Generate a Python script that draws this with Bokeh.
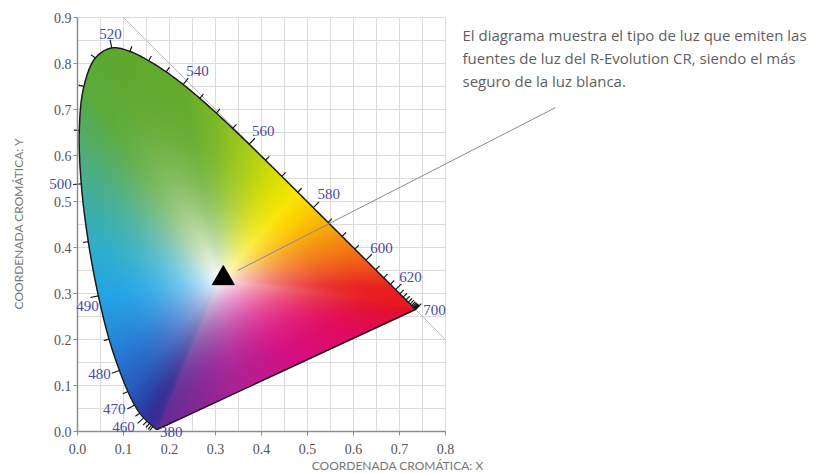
import numpy as np
from bokeh.plotting import figure
from bokeh.models import ColumnDataSource, LabelSet, Label, Arrow, FixedTicker, PrintfTickFormatter, Grid
from bokeh.core.properties import value
from bokeh.embed import file_html
from bokeh.resources import INLINE

# CIE 1931 spectral locus (2 deg observer), 5 nm steps
wavelengths = [380, 385, 390, 395, 400, 405, 410, 415, 420, 425, 430, 435, 440, 445, 450,
               455, 460, 465, 470, 475, 480, 485, 490, 495, 500, 505, 510, 515, 520, 525,
               530, 535, 540, 545, 550, 555, 560, 565, 570, 575, 580, 585, 590, 595, 600,
               605, 610, 615, 620, 625, 630, 635, 640, 645, 650, 655, 660, 665, 670, 675,
               680, 685, 690, 695, 700]
locus_x = [0.1741, 0.1740, 0.1738, 0.1736, 0.1733, 0.1730, 0.1726, 0.1721, 0.1714, 0.1703,
           0.1689, 0.1669, 0.1644, 0.1611, 0.1566, 0.1510, 0.1440, 0.1355, 0.1241, 0.1096,
           0.0913, 0.0687, 0.0454, 0.0235, 0.0082, 0.0039, 0.0139, 0.0389, 0.0743, 0.1142,
           0.1547, 0.1929, 0.2296, 0.2658, 0.3016, 0.3373, 0.3731, 0.4087, 0.4441, 0.4788,
           0.5125, 0.5448, 0.5752, 0.6029, 0.6270, 0.6482, 0.6658, 0.6801, 0.6915, 0.7006,
           0.7079, 0.7140, 0.7190, 0.7230, 0.7260, 0.7283, 0.7300, 0.7311, 0.7320, 0.7327,
           0.7334, 0.7340, 0.7344, 0.7346, 0.7347]
locus_y = [0.0050, 0.0050, 0.0049, 0.0049, 0.0048, 0.0048, 0.0048, 0.0048, 0.0051, 0.0058,
           0.0069, 0.0086, 0.0109, 0.0138, 0.0177, 0.0227, 0.0297, 0.0399, 0.0578, 0.0868,
           0.1327, 0.2007, 0.2950, 0.4127, 0.5384, 0.6548, 0.7502, 0.8120, 0.8338, 0.8262,
           0.8059, 0.7816, 0.7543, 0.7243, 0.6923, 0.6589, 0.6245, 0.5896, 0.5547, 0.5202,
           0.4866, 0.4544, 0.4242, 0.3965, 0.3725, 0.3514, 0.3340, 0.3197, 0.3083, 0.2993,
           0.2920, 0.2859, 0.2809, 0.2770, 0.2740, 0.2717, 0.2700, 0.2689, 0.2680, 0.2673,
           0.2666, 0.2660, 0.2656, 0.2654, 0.2653]

# wavelength labels (positions)
label_text = ["380", "460", "470", "480", "490", "500", "520", "540", "560", "580", "600", "620", "700"]
label_x = [0.204, 0.100, 0.080, 0.048, 0.022, -0.037, 0.072, 0.261, 0.404, 0.546, 0.661, 0.724, 0.776]
label_y = [-0.002, 0.009, 0.048, 0.124, 0.272, 0.537, 0.865, 0.783, 0.654, 0.517, 0.398, 0.335, 0.265]

# white point marker and leader line
white_x = [0.317]
white_y = [0.333]
leader_x = [0.348, 1.039]
leader_y = [0.350, 0.704]

# x + y = 1 reference line
diag_x = [0.1, 0.8]
diag_y = [0.9, 0.2]

x_ticks = [0.0, 0.1, 0.2, 0.3, 0.4, 0.5, 0.6, 0.7, 0.8]
y_ticks = [0.0, 0.1, 0.2, 0.3, 0.4, 0.5, 0.6, 0.7, 0.8, 0.9]
x_minor = [0.05, 0.15, 0.25, 0.35, 0.45, 0.55, 0.65, 0.75]
y_minor = [0.05, 0.15, 0.25, 0.35, 0.45, 0.55, 0.65, 0.75, 0.85]

text_lines = ["El diagrama muestra el tipo de luz que emiten las",
              "fuentes de luz del R-Evolution CR, siendo el más",
              "seguro de la luz blanca."]
text_y = [0.861, 0.811, 0.763]
text_x = 0.837

# colour anchors (style) along the boundary
anchor_wl = [380, 450, 460, 470, 480, 490, 495, 500, 505, 510, 520, 540, 550, 560, 570, 575, 580, 590, 600, 610, 620, 700]
anchor_rgb = [(95, 45, 150), (55, 45, 150), (45, 55, 155), (40, 75, 175), (40, 110, 205), (35, 165, 230),
              (50, 175, 200), (70, 175, 150), (85, 172, 100), (90, 170, 60), (95, 168, 45), (100, 172, 45),
              (125, 185, 40), (170, 205, 25), (225, 225, 0), (250, 230, 0), (252, 205, 0), (245, 145, 15),
              (240, 95, 25), (235, 55, 30), (232, 30, 32), (228, 18, 38)]
purple_frac = [0.0, 0.2, 0.45, 0.7, 1.0]
purple_rgb = [(228, 18, 38), (225, 10, 90), (215, 15, 130), (170, 35, 150), (95, 45, 150)]
WX, WY = 0.31, 0.33

# ---- layout geometry: 460 px per unit, x=0 at px 77, y=0 at px 431 ----
W_PX, H_PX = 821, 473
SCALE = 460.0
X0_PX, Y0_PX = 77.0, 431.0
x_range = (-X0_PX / SCALE, (W_PX - X0_PX) / SCALE)
y_range = ((Y0_PX - H_PX) / SCALE, Y0_PX / SCALE)


def centripetal_cr(xs, ys, ws, sub=12):
    """Smooth centripetal Catmull-Rom curve through the locus points."""
    P = np.column_stack([xs, ys]).astype(float)
    P = np.vstack([2 * P[0] - P[1], P, 2 * P[-1] - P[-2]])
    ox, oy, ow = [], [], []
    for i in range(1, len(P) - 2):
        p0, p1, p2, p3 = P[i - 1], P[i], P[i + 1], P[i + 2]
        t0 = 0.0
        t1 = t0 + np.linalg.norm(p1 - p0) ** 0.5 + 1e-9
        t2 = t1 + np.linalg.norm(p2 - p1) ** 0.5 + 1e-9
        t3 = t2 + np.linalg.norm(p3 - p2) ** 0.5 + 1e-9
        tt = np.linspace(t1, t2, sub, endpoint=False)[:, None]
        A1 = (t1 - tt) / (t1 - t0) * p0 + (tt - t0) / (t1 - t0) * p1
        A2 = (t2 - tt) / (t2 - t1) * p1 + (tt - t1) / (t2 - t1) * p2
        A3 = (t3 - tt) / (t3 - t2) * p2 + (tt - t2) / (t3 - t2) * p3
        B1 = (t2 - tt) / (t2 - t0) * A1 + (tt - t0) / (t2 - t0) * A2
        B2 = (t3 - tt) / (t3 - t1) * A2 + (tt - t1) / (t3 - t1) * A3
        Cc = (t2 - tt) / (t2 - t1) * B1 + (tt - t1) / (t2 - t1) * B2
        u = np.linspace(0, 1, sub, endpoint=False)
        ox.extend(Cc[:, 0]); oy.extend(Cc[:, 1])
        ow.extend(ws[i - 1] + (ws[i] - ws[i - 1]) * u)
    ox.append(xs[-1]); oy.append(ys[-1]); ow.append(ws[-1])
    return np.array(ox), np.array(oy), np.array(ow, float)


lx = np.array(locus_x); ly = np.array(locus_y); wl = np.array(wavelengths, float)
n = len(lx)
sx, sy, sw = centripetal_cr(lx, ly, wl)

# ---- build gradient image ----
A = np.array(anchor_rgb, float)
loc_col = np.stack([np.interp(sw, anchor_wl, A[:, k]) for k in range(3)], 1)
f = np.linspace(0, 1, 122)[1:-1]
pxs = lx[-1] + (lx[0] - lx[-1]) * f
pys = ly[-1] + (ly[0] - ly[-1]) * f
P = np.array(purple_rgb, float)
pcol = np.stack([np.interp(f, purple_frac, P[:, k]) for k in range(3)], 1)
bx = np.concatenate([sx, pxs]); by = np.concatenate([sy, pys])
bc = np.vstack([loc_col, pcol])
ang = np.arctan2(by - WY, bx - WX)
rad = np.hypot(bx - WX, by - WY)

NX, NY = 368, 414
gx = (np.arange(NX) + 0.5) / NX * 0.8
gy = (np.arange(NY) + 0.5) / NY * 0.9
GX, GY = np.meshgrid(gx, gy)
th = np.arctan2(GY - WY, GX - WX)
r = np.hypot(GX - WX, GY - WY)
R = np.interp(th, ang, rad, period=2 * np.pi)
C = np.stack([np.interp(th, ang, bc[:, k], period=2 * np.pi) for k in range(3)], -1)
s = np.clip(r / R, 0, 1)
t = 1 - (1 - s) ** 2.5
rgb = 255 + (C - 255) * t[..., None]
alpha = np.clip((R - r) * SCALE + 0.5, 0, 1) * 255
img = np.zeros((NY, NX, 4), dtype=np.uint8)
img[..., :3] = np.clip(rgb, 0, 255).astype(np.uint8)
img[..., 3] = alpha.astype(np.uint8)
img32 = img.view(np.uint32).reshape(NY, NX)

# ---- wavelength ticks (outward normals) ----
tick_idx = [i for i, w in enumerate(wavelengths) if w >= 440]
tx0, ty0, tx1, ty1 = [], [], [], []
for i in tick_idx:
    a = max(i - 1, 0); b = min(i + 1, n - 1)
    dx = lx[b] - lx[a]; dy = ly[b] - ly[a]
    L = np.hypot(dx, dy)
    nx, ny = -dy / L, dx / L
    ln = 0.018 if str(wavelengths[i]) in label_text else 0.012
    tx0.append(lx[i]); ty0.append(ly[i])
    tx1.append(lx[i] + nx * ln); ty1.append(ly[i] + ny * ln)

p = figure(width=W_PX, height=H_PX, x_range=x_range, y_range=y_range,
           output_backend="svg", toolbar_location=None, min_border=0,
           background_fill_color="white", border_fill_color="white")
p.outline_line_color = None

GRID_COLOR = "#dcdcdc"
have_cross = "cross_bounds" in Grid.properties()

for ax, tk, mn, bnd in ((p.xaxis[0], x_ticks, x_minor, (0.0, 0.8)), (p.yaxis[0], y_ticks, y_minor, (0.0, 0.9))):
    ax.ticker = FixedTicker(ticks=tk, minor_ticks=mn)
    ax.formatter = PrintfTickFormatter(format="%.1f")
    ax.fixed_location = 0
    ax.bounds = bnd
    ax.axis_line_color = "#8c8c8c"
    ax.axis_line_width = 1.5
    ax.major_tick_line_color = "#8c8c8c"
    ax.major_tick_out = 4
    ax.major_tick_in = 0
    ax.minor_tick_line_color = None
    ax.major_label_text_font = "Liberation Serif"
    ax.major_label_text_font_size = "14px"
    ax.major_label_text_color = "#555555"
p.xaxis.major_label_standoff = 8
p.yaxis.major_label_standoff = 2

if have_cross:
    p.xgrid[0].bounds = (0.0, 0.8)
    p.xgrid[0].cross_bounds = (0.0, 0.9)
    p.ygrid[0].bounds = (0.0, 0.9)
    p.ygrid[0].cross_bounds = (0.0, 0.8)
    p.grid.grid_line_color = GRID_COLOR
    p.grid.minor_grid_line_color = GRID_COLOR
    p.grid.grid_line_width = 1
    p.grid.minor_grid_line_width = 1
else:
    p.grid.visible = False
    gxs = sorted(x_ticks + x_minor)
    gys = sorted(y_ticks + y_minor)
    p.segment(gxs, [0.0] * len(gxs), gxs, [0.9] * len(gxs), line_color=GRID_COLOR, line_width=1)
    p.segment([0.0] * len(gys), gys, [0.8] * len(gys), gys, line_color=GRID_COLOR, line_width=1)

p.line(diag_x, diag_y, line_color="#bdbdbd", line_width=1)
p.image_rgba(image=[img32], x=0, y=0, dw=0.8, dh=0.9, level="glyph")
p.patch(list(sx), list(sy), fill_color=None, line_color="#1a1a1a", line_width=1.5)
p.segment(tx0, ty0, tx1, ty1, line_color="#1a1a1a", line_width=1.2)
p.scatter(white_x, white_y, marker="triangle", size=22, fill_color="black", line_color="black")

src = ColumnDataSource(dict(x=label_x, y=label_y, t=label_text))
p.add_layout(LabelSet(x="x", y="y", text="t", source=src, text_align="center", text_baseline="middle",
                      text_font=value("Liberation Serif"), text_font_size=value("15px"),
                      text_color="#4a4aa6"))

p.add_layout(Arrow(end=None, x_start=leader_x[0], y_start=leader_y[0], x_end=leader_x[1], y_end=leader_y[1],
                   line_color="#8a8a8a", line_width=1))

for line, yy in zip(text_lines, text_y):
    p.add_layout(Label(x=text_x, y=yy, text=line, text_align="left", text_baseline="middle",
                       text_font="Open Sans", text_font_size="15px", text_color="#5f5f5f"))

p.add_layout(Label(x=0.696, y=(Y0_PX - 465) / SCALE, text="COORDENADA CROMÁTICA: X", text_align="center",
                   text_baseline="middle", text_font="Lato", text_font_size="12px", text_color="#777777"))
p.add_layout(Label(x=-0.128, y=0.452, text="COORDENADA CROMÁTICA: Y", text_align="center",
                   text_baseline="middle", angle=np.pi / 2, text_font="Lato", text_font_size="12px",
                   text_color="#777777"))

open("out.html", "w").write(file_html(p, INLINE))
